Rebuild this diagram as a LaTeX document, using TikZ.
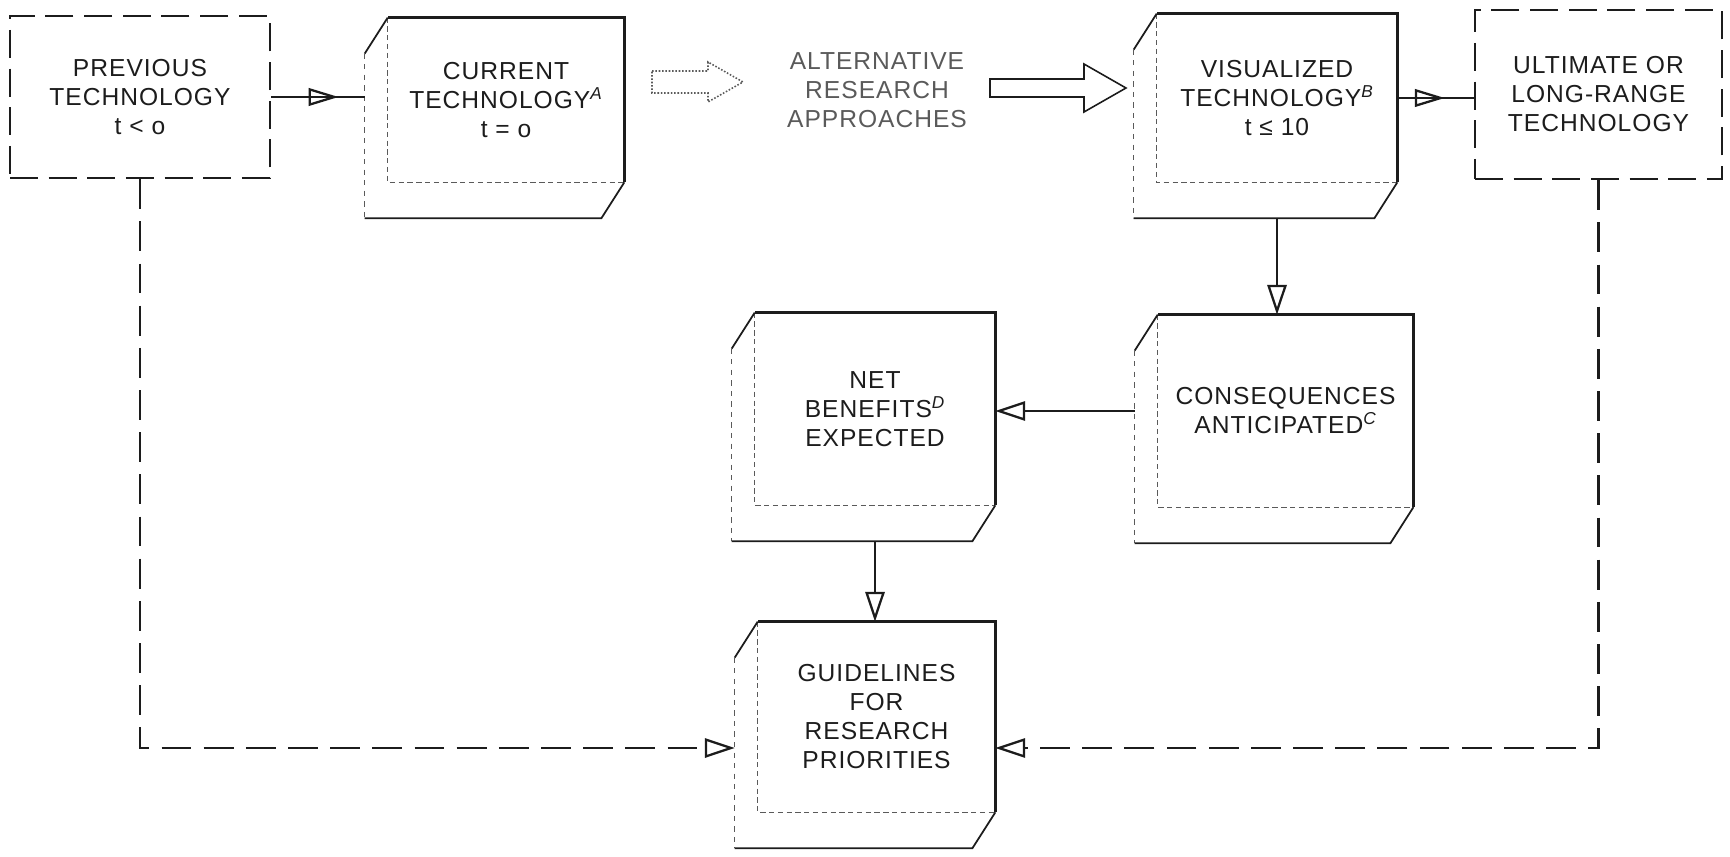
\documentclass[tikz,border=0pt]{standalone}
\usepackage{fontspec}
\setmainfont{Liberation Sans}[LetterSpace=4]
\usetikzlibrary{arrows.meta,calc,decorations.markings}
\definecolor{inkblk}{HTML}{1C1C1C}
\definecolor{inkgray}{HTML}{5A5A5A}

\def\backdx{23}  % back page offset, left
\def\backdy{36}  % back page offset, down

% front face (node #1) with its receding back page
\newcommand{\stackbox}[1]{%
  \draw[inkblk,line width=1.5pt] (#1.south east) -- (#1.north east) -- (#1.north west);
  \draw[inkgray,line width=0.6pt,densely dashed] (#1.north west) -- (#1.south west) -- (#1.south east);
  \draw[inkblk,line width=1pt] (#1.north west) -- ++(-\backdx,\backdy) coordinate (#1-tl);
  \draw[inkgray,line width=0.8pt,dashed] (#1-tl) -- ($(#1.south west)+(-\backdx,\backdy)$) coordinate (#1-bl);
  \draw[inkblk,line width=1pt] (#1-bl) -- ($(#1.south east)+(-\backdx,\backdy)$) -- (#1.south east);
  \coordinate (#1-back) at ($(#1.west)+(-\backdx,0)$);
}

% outlined block arrow from #2 to #3 (same height)
\newcommand{\hollowarrow}[6][]{%
  \draw[#1] ($(#2)+(0,-#4)$) -- ($(#3)+(-#6,-#4)$) -- ($(#3)+(-#6,-#5)$) -- (#3)
        -- ($(#3)+(-#6,#5)$) -- ($(#3)+(-#6,#4)$) -- ($(#2)+(0,#4)$) -- cycle;
}

\begin{document}
\begin{tikzpicture}[x=0.02cm,y=-0.02cm,
  font=\fontsize{14}{16.5}\selectfont,
  plainbox/.style={inner sep=0pt,align=center,text=inkblk},
  dashbox/.style={plainbox,draw=inkblk,line width=1.4pt,dash pattern=on 16pt off 6pt},
  flow/.style={inkblk,line width=1.6pt},
  loopline/.style={inkblk,line width=1.5pt,dash pattern=on 17pt off 7pt},
  headtip/.style={-{Triangle[open,length=17pt,width=11pt,line width=1.3pt]}},
  midtip/.style={postaction={decorate},decoration={markings,
      mark=at position #1 with {\arrow{Triangle[open,length=17pt,width=10pt,line width=1.3pt]}}}}]

  \useasboundingbox (0,0) rectangle (1730,857);

  % =====================================================================
  % TOP ROW
  % =====================================================================
  \node[dashbox,minimum width=5.2cm,minimum height=3.24cm] (prev) at (140,97)
        {PREVIOUS\\TECHNOLOGY\\t < o};
  \node[plainbox,minimum width=4.72cm,minimum height=3.28cm] (curr) at (506,100)
        {CURRENT\\TECHNOLOGY\textsuperscript{\itshape A}\\t = o};
  \node[plainbox,text=inkgray] (alt) at (877,90)
        {ALTERNATIVE\\RESEARCH\\APPROACHES};
  \node[plainbox,minimum width=4.8cm,minimum height=3.36cm] (vis) at (1277,98)
        {VISUALIZED\\TECHNOLOGY\textsuperscript{\itshape B}\\t ≤ 10};
  \node[dashbox,minimum width=4.94cm,minimum height=3.38cm] (ult) at (1598.5,94.5)
        {ULTIMATE OR\\LONG-RANGE\\TECHNOLOGY};

  \stackbox{curr}
  \stackbox{vis}

  % =====================================================================
  % MIDDLE / BOTTOM
  % =====================================================================
  \node[plainbox,minimum width=4.8cm,minimum height=3.84cm] (net) at (875,409)
        {NET\\BENEFITS\textsuperscript{\itshape D}\\EXPECTED};
  \node[plainbox,minimum width=5.1cm,minimum height=3.84cm] (cons) at (1285.5,411)
        {CONSEQUENCES\\ANTICIPATED\textsuperscript{\itshape C}};
  \node[plainbox,minimum width=4.74cm,minimum height=3.8cm] (guide) at (876.5,717)
        {GUIDELINES\\FOR\\RESEARCH\\PRIORITIES};

  \stackbox{net}
  \stackbox{cons}
  \stackbox{guide}

  % connectors, top row
  \draw[flow,midtip=0.72] (prev.east) -- (prev.east -| curr-back);
  \draw[flow,midtip=0.62] (vis.east) -- (vis.east -| ult.west);

  % block arrows round the alternatives
  \coordinate (b1s) at (652,82);
  \coordinate (b1e) at (743,82);
  \coordinate (b2s) at (990,88);
  \coordinate (b2e) at (1126,88);
  \hollowarrow[inkgray,line width=0.9pt,densely dotted]{b1s}{b1e}{11}{20}{35}
  \hollowarrow[inkblk,line width=0.9pt]{b2s}{b2e}{9}{24}{42}

  % down and across
  \draw[flow,headtip] (vis.south |- vis-bl) -- (vis.south |- cons.north);
  \draw[flow,headtip] (cons-back) -- (cons-back -| net.east);
  \draw[flow,headtip] (net.south |- net-bl) -- (net.south |- guide.north);

  % feedback loops into the guidelines
  \coordinate (loopY) at (0,748);
  \draw[loopline,headtip] (prev.south) -- (prev.south |- loopY) -- (guide-back |- loopY);
  \draw[loopline,headtip] (ult.south) -- (ult.south |- loopY) -- (guide.east |- loopY);

\end{tikzpicture}
\end{document}
